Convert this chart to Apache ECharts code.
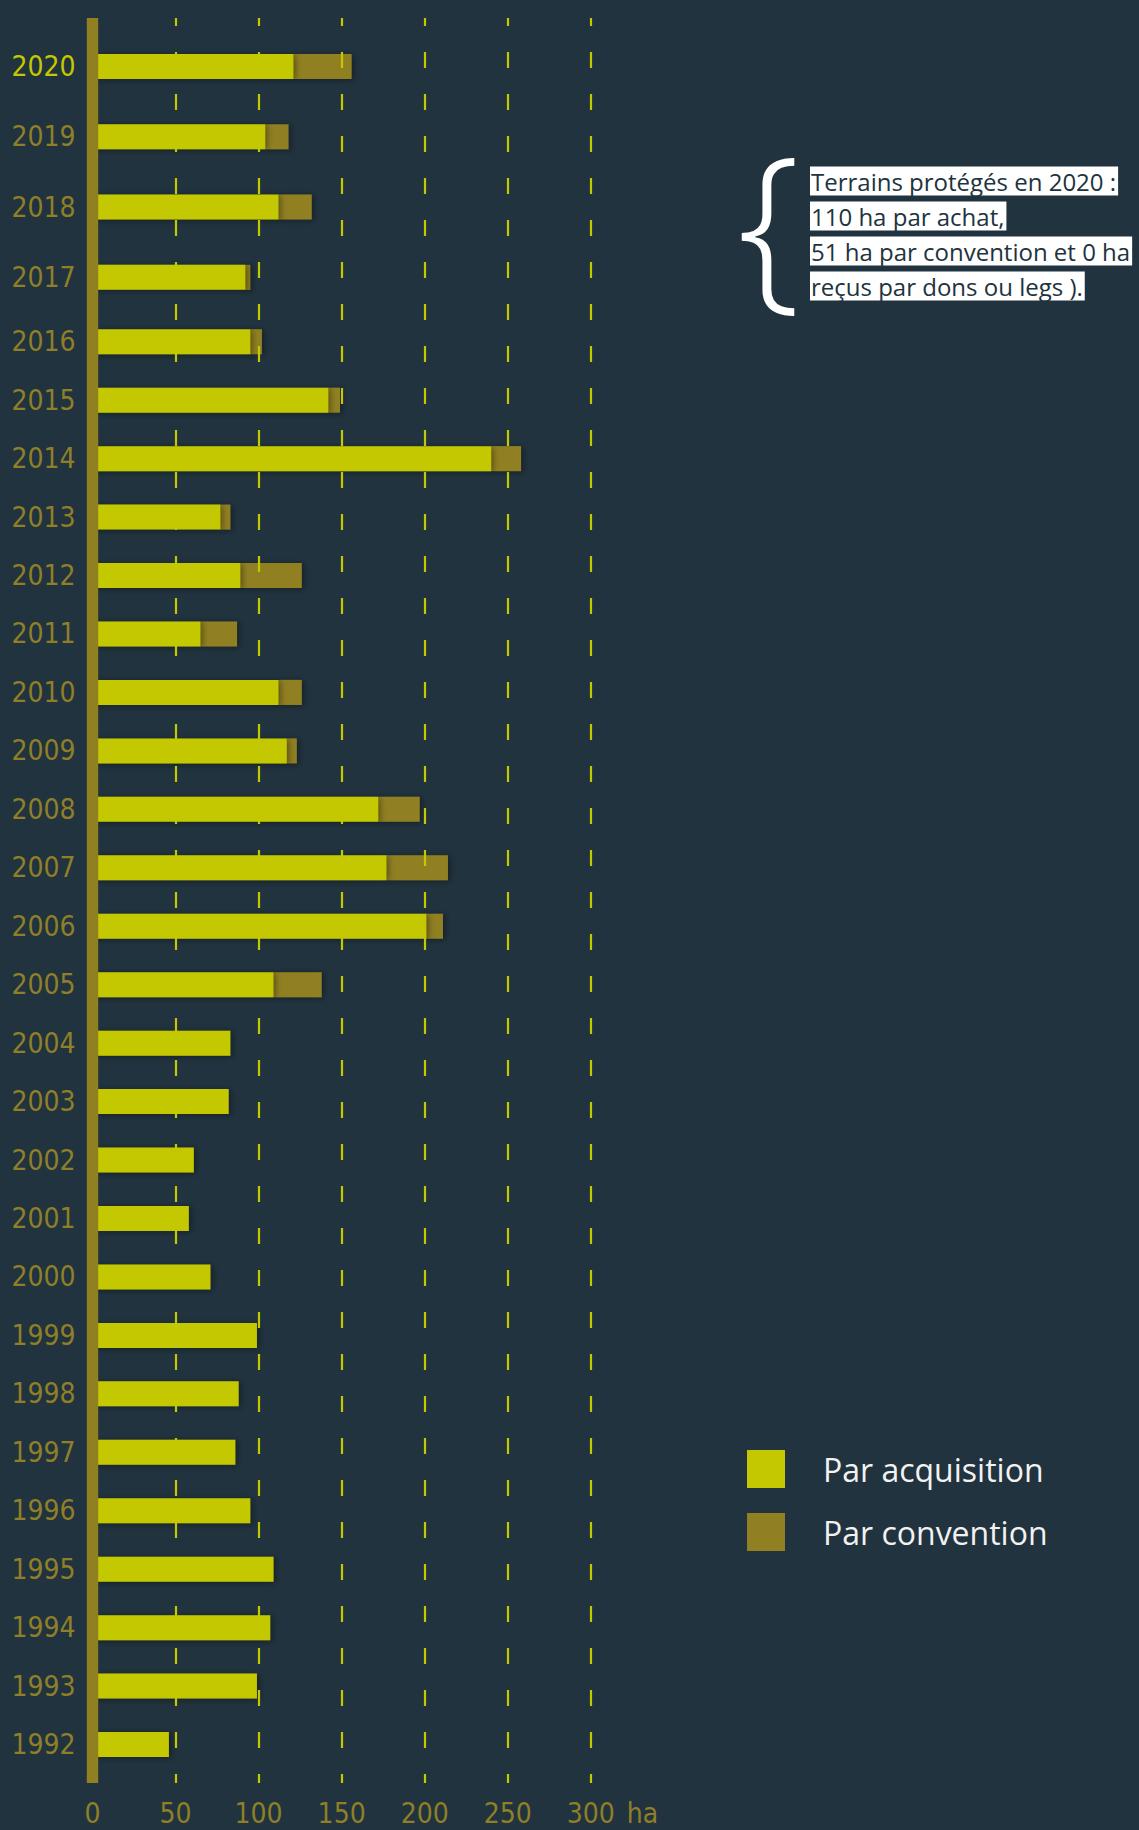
<!DOCTYPE html>
<html><head><meta charset="utf-8">
<script src="https://cdn.jsdelivr.net/npm/echarts@6/dist/echarts.min.js"></script>
<style>html,body{margin:0;padding:0;background:#21333e;}#c{width:1139px;height:1830px;}</style>
</head><body><div id="c"></div>
<script>
// ---- data ----
const years = ['1992','1993','1994','1995','1996','1997','1998','1999','2000','2001','2002','2003','2004','2005','2006','2007','2008','2009','2010','2011','2012','2013','2014','2015','2016','2017','2018','2019','2020'];
const acquisition = [46,99,107,109,95,86,88,99,71,58,61,82,83,109,201,177,172,117,112,65,89,77,240,142,95,92,112,104,121];
const convention  = [0,0,0,0,0,0,0,0,0,0,0,0,0,29,10,37,25,6,14,22,37,6,18,7,7,3,20,14,35];
const xTicks = [0,50,100,150,200,250,300];
const seriesNames = ['Par acquisition','Par convention'];
const noteLines = ['Terrains protégés en 2020 :','110 ha par achat,','51 ha par convention et 0 ha','reçus par dons ou legs ).'];
const highlightYear = '2020';

// ---- style ----
const BG = '#21333e', YEL = '#c4c800', OLIVE = '#918022', LBL = '#8f7f28';
const NARROW = '"Liberation Sans Narrow", "DejaVu Sans Condensed", sans-serif';
const OPEN = '"Open Sans", "Noto Sans", sans-serif';
const split = years.indexOf('2017');
const topYears = years.slice(split), botYears = years.slice(0, split);
const L = 92.5, W = 498.3, XMAX = 300;

const grids = [
  {left: L, width: W, top: 18, height: 1765},        // frame: axis bar, grid lines, x labels
  {left: L, width: W, top: 31.4, height: 281.1},     // 2017-2020
  {left: L, width: W, top: 312.5, height: 1461.3}    // 1992-2016
];
function hiddenX(i){ return {type:'value', gridIndex:i, min:0, max:XMAX, interval:50, show:false}; }
function yearAxis(i, cats){
  return {type:'category', gridIndex:i, data:cats, axisLine:{show:false}, axisTick:{show:false},
    axisLabel:{align:'left', margin:81, fontFamily:NARROW, fontSize:28,
      color:(v)=> v===highlightYear ? YEL : LBL}};
}
const shadow = {shadowBlur:6, shadowColor:'rgba(0,0,0,0.4)', shadowOffsetX:2, shadowOffsetY:1};
function barSeries(i, cats, a, c){
  return [
    {name:seriesNames[0], type:'bar', xAxisIndex:i, yAxisIndex:i, stack:'s'+i, barWidth:25, z:3,
     data:a, itemStyle:Object.assign({color:YEL}, shadow)},
    {name:seriesNames[1], type:'bar', xAxisIndex:i, yAxisIndex:i, stack:'s'+i, barWidth:25, z:2,
     data:c, itemStyle:Object.assign({color:OLIVE}, shadow)}
  ];
}

const chart = echarts.init(document.getElementById('c'), null, {renderer:'svg'});
chart.setOption({
  backgroundColor: BG,
  animation: false,
  grid: grids,
  xAxis: [
    {type:'value', gridIndex:0, min:xTicks[0], max:xTicks[xTicks.length-1], interval:50, z:4,
     axisLine:{show:false}, axisTick:{show:false},
     axisLabel:{margin:16, fontFamily:NARROW, fontSize:28, color:LBL},
     name:'ha', nameLocation:'end', nameGap:36,
     nameTextStyle:{fontFamily:NARROW, fontSize:28, color:LBL, verticalAlign:'top', padding:[16,0,0,0]},
     splitLine:{show:true, lineStyle:{color:YEL, width:2.2, type:[16,26], dashOffset:8}}},
    hiddenX(1), hiddenX(2)
  ],
  yAxis: [
    {type:'value', gridIndex:0, min:0, max:1, z:5, splitLine:{show:false}, axisTick:{show:false}, axisLabel:{show:false},
     axisLine:{show:true, lineStyle:{color:OLIVE, width:11.4, cap:'butt'}}},
    yearAxis(1, topYears), yearAxis(2, botYears)
  ],
  legend: {
    data: seriesNames, orient:'vertical', left:747, top:1450, padding:0,
    itemWidth:38, itemHeight:38, itemGap:25, icon:'rect',
    itemStyle:{shadowBlur:0, shadowColor:'transparent'},
    textStyle:{fontFamily:OPEN, fontSize:32, color:'#f2f2f2', padding:[0,0,0,33]}
  },
  series: [
    ...barSeries(1, topYears, acquisition.slice(split), convention.slice(split)),
    ...barSeries(2, botYears, acquisition.slice(0, split), convention.slice(0, split))
  ],
  graphic: [
    {type:'text', x:737, y:217, style:{text:'{', font:'300 180px ' + OPEN, fill:'#ffffff', verticalAlign:'middle'}},
    ...noteLines.map((t, i) => ({type:'text', x:810, y:181 + i*35,
      style:{text:t, font:'24px ' + OPEN, lineHeight:29, fill:'#21333e', backgroundColor:'#ffffff', padding:[0,2,0,1], verticalAlign:'middle'}}))
  ]
});
</script></body></html>
